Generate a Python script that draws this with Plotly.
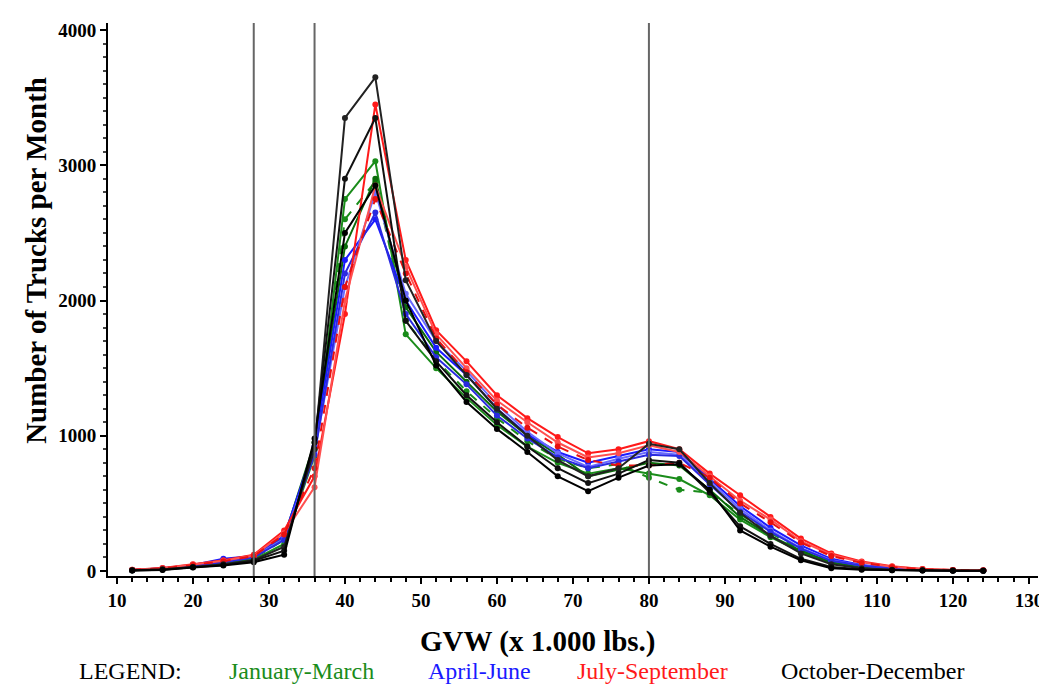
import plotly.graph_objects as go

gvw = [12, 16, 20, 24, 28, 32, 36, 40, 44, 48, 52, 56, 60, 64, 68, 72, 76, 80,
       84, 88, 92, 96, 100, 104, 108, 112, 116, 120, 124]

# Jan-Mar (green)
jan = [5, 15, 35, 55, 85, 200, 850, 2750, 3030, 1750, 1500, 1280, 1080, 920, 800, 720, 760, 720,
       680, 560, 380, 250, 140, 60, 30, 15, 8, 5, 3]
feb = [8, 18, 40, 60, 95, 230, 900, 2600, 2880, 1850, 1560, 1330, 1130, 960, 830, 760, 790, 690,
       600, 580, 420, 280, 160, 70, 35, 18, 9, 6, 4]
mar = [6, 16, 38, 62, 100, 250, 950, 2400, 2900, 1950, 1620, 1400, 1180, 1000, 860, 700, 750, 800,
       780, 600, 400, 260, 150, 65, 32, 16, 8, 5, 3]
# Apr-Jun (blue)
apr = [8, 20, 45, 90, 110, 260, 920, 2300, 2600, 2000, 1650, 1450, 1200, 1010, 880, 800, 850, 900,
       880, 680, 480, 320, 190, 90, 45, 22, 10, 6, 4]
may = [7, 18, 42, 70, 105, 240, 880, 2100, 2800, 2050, 1700, 1480, 1230, 1030, 870, 770, 830, 880,
       860, 660, 460, 300, 170, 80, 40, 20, 9, 5, 3]
jun = [6, 17, 40, 65, 100, 230, 860, 2200, 2650, 1900, 1580, 1380, 1150, 980, 840, 760, 810, 860,
       850, 640, 440, 290, 165, 75, 38, 18, 8, 5, 3]
# Jul-Sep (red)
jul = [10, 22, 50, 80, 120, 300, 700, 1900, 3450, 2300, 1780, 1550, 1300, 1130, 990, 870, 900, 960,
       900, 720, 560, 400, 240, 130, 70, 35, 15, 8, 5]
aug = [9, 20, 48, 75, 115, 280, 620, 2000, 2850, 2250, 1750, 1500, 1260, 1100, 950, 840, 870, 930,
       880, 700, 520, 380, 220, 120, 65, 32, 14, 8, 5]
sep = [8, 19, 45, 72, 110, 270, 760, 2100, 2750, 2200, 1720, 1470, 1230, 1060, 920, 820, 780, 780,
       800, 690, 500, 360, 210, 110, 60, 30, 12, 7, 4]
# Oct-Dec (black)
octo = [5, 12, 30, 50, 80, 180, 900, 3350, 3650, 2150, 1700, 1450, 1200, 1000, 820, 700, 760, 940,
        900, 650, 430, 260, 130, 50, 20, 10, 5, 3, 2]
nov = [4, 10, 28, 45, 75, 150, 950, 2900, 3350, 1850, 1550, 1300, 1100, 920, 760, 650, 720, 820,
       800, 580, 330, 200, 90, 30, 12, 6, 4, 2, 2]
dec = [3, 8, 25, 40, 65, 120, 980, 2500, 2850, 2000, 1520, 1250, 1050, 880, 700, 590, 690, 780,
       790, 600, 300, 180, 80, 20, 10, 5, 3, 2, 1]

series = [
    ("January", jan, "#1a8c1a", "solid"), ("February", feb, "#1a8c1a", "dash"), ("March", mar, "#0b6b0b", "solid"),
    ("April", apr, "#1a1aff", "solid"), ("May", may, "#6a6aff", "solid"), ("June", jun, "#2a2ae0", "solid"),
    ("July", jul, "#ff1a1a", "solid"), ("August", aug, "#ff5050", "solid"), ("September", sep, "#e81010", "dash"),
    ("October", octo, "#222222", "solid"), ("November", nov, "#111111", "solid"), ("December", dec, "#000000", "solid"),
]

vlines = [28, 36, 80]

fig = go.Figure()
for name, vals, col, dash in series:
    fig.add_trace(go.Scatter(
        x=gvw, y=vals, mode="lines+markers", name=name,
        line=dict(color=col, width=2, dash=dash),
        marker=dict(color=col, size=6, symbol="circle"),
        showlegend=False,
    ))

for v in vlines:
    fig.add_shape(type="line", x0=v, x1=v, xref="x", y0=0, y1=1, yref="paper",
                  line=dict(color="#666666", width=2))

tf = dict(family="Liberation Serif", size=19, color="black", weight="bold")
fig.update_xaxes(range=[8.82, 131.2], tickvals=list(range(10, 131, 10)), showgrid=False, zeroline=False,
                 showline=True, linecolor="black", linewidth=2, ticks="outside", ticklen=6,
                 tickwidth=2, tickcolor="black", tickfont=tf,
                 minor=dict(ticks="outside", ticklen=4, tickwidth=1.5, tickcolor="black", dtick=2))
fig.update_yaxes(range=[-37, 4052], tickvals=[0, 1000, 2000, 3000, 4000], showgrid=False, zeroline=False,
                 showline=True, linecolor="black", linewidth=2, ticks="outside", ticklen=6,
                 tickwidth=2, tickcolor="black", tickfont=tf,
                 minor=dict(ticks="outside", ticklen=3, tickwidth=1.5, tickcolor="#444444", dtick=100))

L, R, T, B = 100, 1032, 12, 568
ann = [
    dict(text="<b>Number of Trucks per Month</b>", x=28, y=251, textangle=-90,
         font=dict(family="Liberation Serif", size=29, color="black")),
    dict(text="<b>GVW (x 1.000 lbs.)</b>", x=531, y=634,
         font=dict(family="Liberation Serif", size=29, color="black")),
    dict(text="LEGEND:", x=123, y=664, font=dict(family="Liberation Serif", size=24, color="black")),
    dict(text="January-March", x=294, y=664, font=dict(family="Liberation Serif", size=24, color="#1a8c1a")),
    dict(text="April-June", x=472, y=664, font=dict(family="Liberation Serif", size=24, color="#1a1aff")),
    dict(text="July-September", x=646, y=664, font=dict(family="Liberation Serif", size=24, color="#ff1a1a")),
    dict(text="October-December", x=866, y=664, font=dict(family="Liberation Serif", size=24, color="black")),
]
annotations = []
for a in ann:
    px, py = a.pop("x"), a.pop("y")
    annotations.append(dict(x=(px - L) / (R - L), y=(B - py) / (B - T), xref="paper", yref="paper",
                            xanchor="center", yanchor="middle", showarrow=False, borderpad=0, **a))

fig.update_layout(width=1047, height=688, margin=dict(l=L, r=1047 - R, t=T, b=688 - B),
                  plot_bgcolor="white", paper_bgcolor="white", annotations=annotations)

fig.write_html("out.html")
